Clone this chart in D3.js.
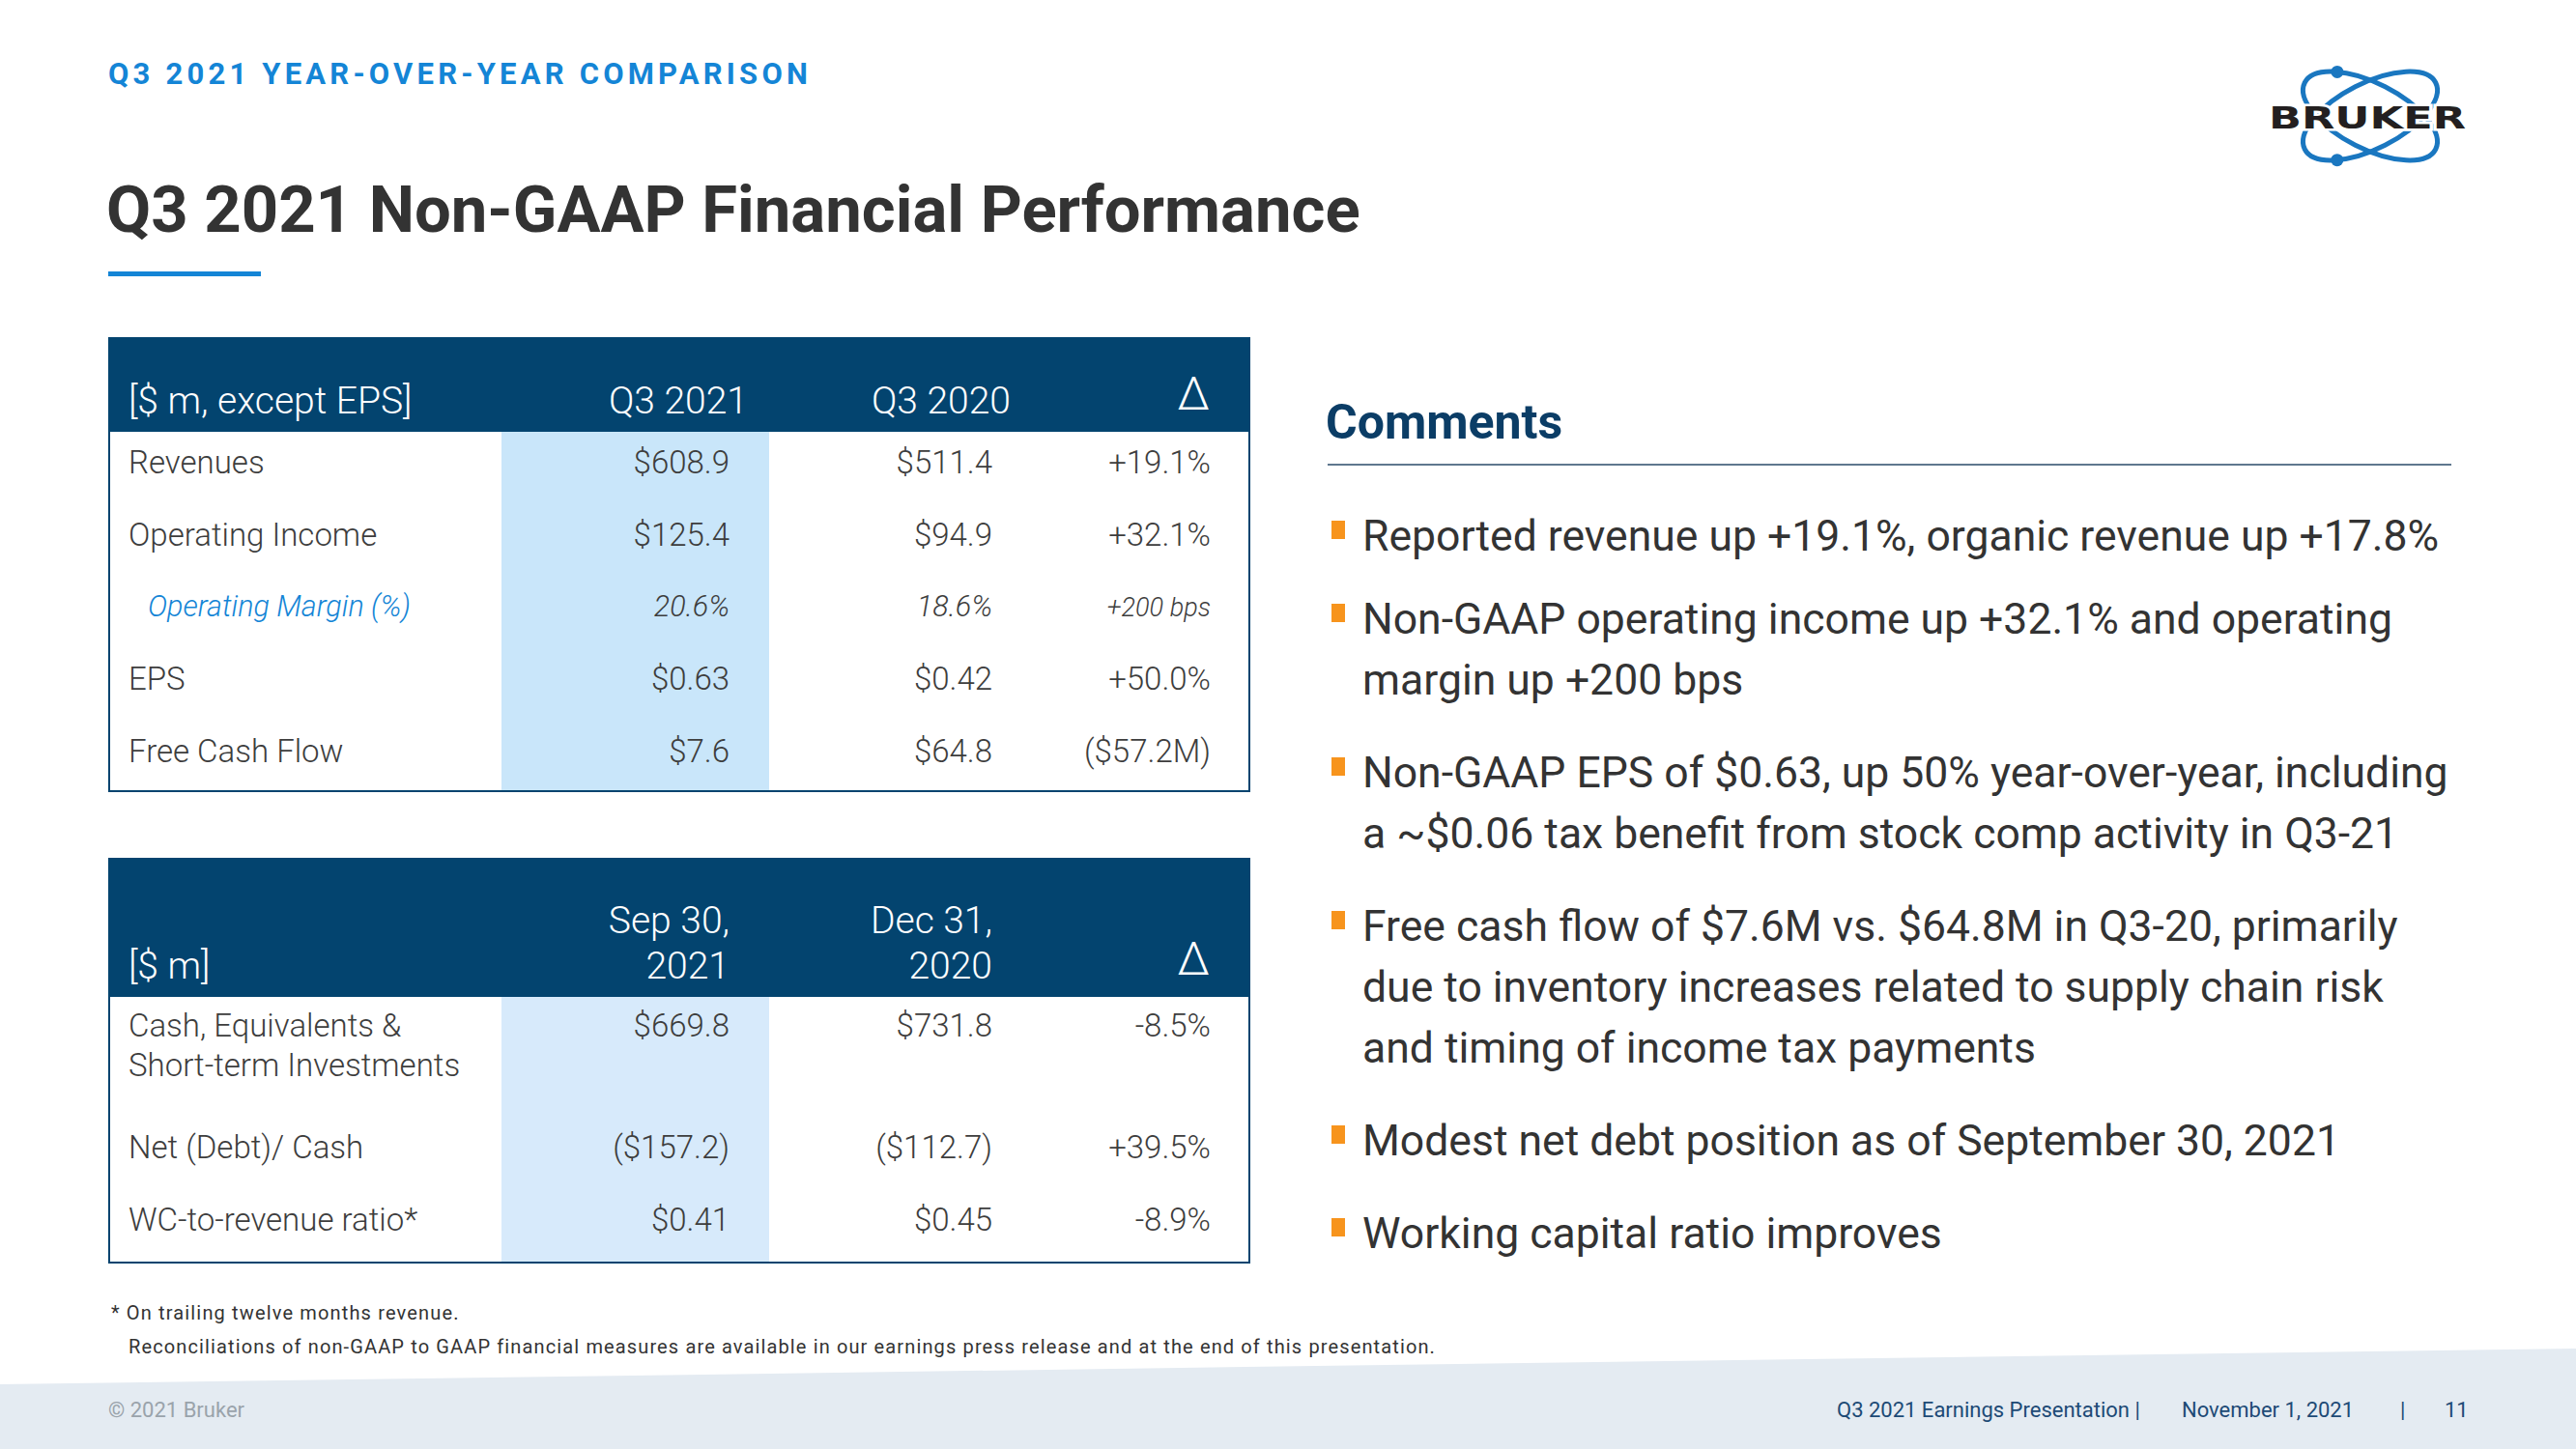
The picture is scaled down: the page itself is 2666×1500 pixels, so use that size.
<!DOCTYPE html>
<html><head><meta charset="utf-8">
<script src="https://cdn.jsdelivr.net/npm/d3@7"></script>
<style>html,body{margin:0;padding:0;background:#fff;overflow:hidden}</style>
</head><body>
<svg id="c" width="2666" height="1500"></svg>
<script>
// ---------------- DATA ----------------
const kicker = "Q3 2021 YEAR-OVER-YEAR COMPARISON";
const title = "Q3 2021 Non-GAAP Financial Performance";

const perfHeader = ["[$ m, except EPS]", "Q3 2021", "Q3 2020", "\u0394"];
const perfMetrics = ["Revenues", "Operating Income", "Operating Margin (%)", "EPS", "Free Cash Flow"];
const perfQ32021 = ["$608.9", "$125.4", "20.6%", "$0.63", "$7.6"];
const perfQ32020 = ["$511.4", "$94.9", "18.6%", "$0.42", "$64.8"];
const perfDelta = ["+19.1%", "+32.1%", "+200 bps", "+50.0%", "($57.2M)"];
const perfSubRows = ["Operating Margin (%)"];

const balHeader = [["[$ m]"], ["Sep 30,", "2021"], ["Dec 31,", "2020"], ["\u0394"]];
const balMetrics = [["Cash, Equivalents &", "Short-term Investments"], ["Net (Debt)/ Cash"], ["WC-to-revenue ratio*"]];
const balSep2021 = ["$669.8", "($157.2)", "$0.41"];
const balDec2020 = ["$731.8", "($112.7)", "$0.45"];
const balDelta = ["-8.5%", "+39.5%", "-8.9%"];

const commentsTitle = "Comments";
const comments = [
  ["Reported revenue up +19.1%, organic revenue up +17.8%"],
  ["Non-GAAP operating income up +32.1% and operating", "margin up +200 bps"],
  ["Non-GAAP EPS of $0.63, up 50% year-over-year, including", "a ~$0.06 tax benefit from stock comp activity in Q3-21"],
  ["Free cash flow of $7.6M vs. $64.8M in Q3-20, primarily", "due to inventory increases related to supply chain risk", "and timing of income tax payments"],
  ["Modest net debt position as of September 30, 2021"],
  ["Working capital ratio improves"]
];
const footnotes = ["* On trailing twelve months revenue.",
  "Reconciliations of non-GAAP to GAAP financial measures are available in our earnings press release and at the end of this presentation."];
const footerLeft = "\u00A9 2021 Bruker";
const footerRight = ["Q3 2021 Earnings Presentation |", "November 1, 2021", "|", "11"];

// ---------------- STYLE ----------------
const NAVY = "#03446f", BLUE = "#1485d6", TXT = "#3d3d3d", ORANGE = "#f7941d";
const FONT = "Roboto, 'Noto Sans', sans-serif";

const svg = d3.select("#c");
svg.append("rect").attr("width", 2666).attr("height", 1500).attr("fill", "#fff");

// footer band
svg.append("path").attr("d", "M0,1433 L2666,1396 L2666,1500 L0,1500 Z").attr("fill", "#e4ebf2");

// kicker + title
svg.append("text").attr("x", 112).attr("y", 87).text(kicker)
  .attr("font-family", FONT).attr("font-weight", 700).attr("font-size", 31)
  .attr("letter-spacing", 4.2).attr("fill", BLUE);
svg.append("text").attr("x", 110).attr("y", 240).text(title)
  .attr("font-family", FONT).attr("font-weight", 700).attr("font-size", 67).attr("fill", "#333");
svg.append("rect").attr("x", 112).attr("y", 281).attr("width", 158).attr("height", 5).attr("fill", BLUE);

// logo
const LA = 76, LB = 34, LT = 27;
const logo = svg.append("g").attr("transform", "translate(2453,120)");
[LT, -LT].forEach(a => {
  logo.append("ellipse").attr("rx", LA).attr("ry", LB).attr("transform", `rotate(${a})`)
    .attr("fill", "none").attr("stroke", "#1a77c0").attr("stroke-width", 5);
});
function onEllipse(rot, tx, ty) {
  const r = rot * Math.PI / 180; let best = null, bd = 1e9;
  for (let t = 0; t < Math.PI * 2; t += 0.005) {
    const x = LA * Math.cos(t) * Math.cos(r) - LB * Math.sin(t) * Math.sin(r);
    const y = LA * Math.cos(t) * Math.sin(r) + LB * Math.sin(t) * Math.cos(r);
    const d = (x - tx) ** 2 + (y - ty) ** 2; if (d < bd) { bd = d; best = [x, y]; }
  }
  return best;
}
[[LT, -34, -48], [-LT, -34, 48]].forEach(([r, tx, ty]) => {
  const p = onEllipse(r, tx, ty);
  logo.append("circle").attr("cx", p[0]).attr("cy", p[1]).attr("r", 6.5).attr("fill", "#1a77c0");
});
logo.append("text").attr("x", -105).attr("y", 13).text("BRUKER")
  .attr("font-family", "'DejaVu Sans', sans-serif").attr("font-weight", 700).attr("font-size", 31.5)
  .attr("textLength", 204).attr("lengthAdjust", "spacingAndGlyphs")
  .attr("fill", "#231f20").attr("stroke", "#fff").attr("stroke-width", 5).attr("paint-order", "stroke");

// ---------------- TABLES ----------------
const colKeys = ["label", "cur", "prev", "delta"];
const colX = d3.scaleOrdinal().domain(colKeys).range([133, 755, 1027, 1253]);
const tableX = d3.scaleLinear().domain([0, 1]).range([112, 1294]);
const hlX = d3.scaleOrdinal().domain(["start", "end"]).range([519, 796]);

function frame(g, top, headBottom, bottom) {
  g.append("rect").attr("x", tableX(0)).attr("y", top).attr("width", tableX(1) - tableX(0))
    .attr("height", headBottom - top).attr("fill", NAVY);
  g.append("path").attr("d", `M${tableX(0) + 1},${headBottom} V${bottom - 1} H${tableX(1) - 1} V${headBottom}`)
    .attr("fill", "none").attr("stroke", NAVY).attr("stroke-width", 2);
}
function headText(g, txt, i, y) {
  const isDelta = i === 3;
  g.append("text")
    .attr("x", colX(colKeys[i]) + (isDelta ? -1 : 0))
    .attr("y", isDelta ? y - 4 : y)
    .attr("text-anchor", i === 0 ? "start" : "end")
    .attr("font-family", FONT).attr("font-weight", 300).attr("font-size", isDelta ? 48 : 39).attr("fill", "#fff")
    .text(txt);
}

// table 1
const t1 = svg.append("g");
const t1Top = 349, t1Head = 447, t1Bot = 820;
const y1 = d3.scaleBand().domain(perfMetrics).range([t1Head, t1Bot]);
t1.append("rect").attr("x", hlX("start")).attr("y", t1Head).attr("width", hlX("end") - hlX("start"))
  .attr("height", t1Bot - t1Head).attr("fill", "#c9e6fa");
frame(t1, t1Top, t1Head, t1Bot);
perfHeader.forEach((h, i) => {
  const g = t1.append("g").attr("transform", `translate(${i === 1 || i === 2 ? 19 : 0},0)`);
  headText(g, h, i, 428);
});
const perfRows = perfMetrics.map((m, i) => ({m, cells: [m, perfQ32021[i], perfQ32020[i], perfDelta[i]], sub: perfSubRows.includes(m)}));
perfRows.forEach(r => {
  const yb = y1(r.m) + y1.bandwidth() * 0.58 + (r.sub ? -1 : 0);
  r.cells.forEach((c, i) => {
    t1.append("text")
      .attr("x", colX(colKeys[i]) + (i === 0 && r.sub ? 20 : 0))
      .attr("y", yb)
      .attr("text-anchor", i === 0 ? "start" : "end")
      .attr("font-family", FONT).attr("font-weight", 300)
      .attr("font-style", r.sub ? "italic" : "normal")
      .attr("font-size", r.sub ? (i === 3 ? 27 : 30.5) : 33)
      .attr("fill", r.sub && i === 0 ? BLUE : TXT)
      .text(c);
  });
});

// table 2
const t2 = svg.append("g");
const t2Top = 888, t2Head = 1032, t2Bot = 1308;
t2.append("rect").attr("x", hlX("start")).attr("y", t2Head).attr("width", hlX("end") - hlX("start"))
  .attr("height", t2Bot - t2Head).attr("fill", "#d7eafb");
frame(t2, t2Top, t2Head, t2Bot);
balHeader.forEach((lines, i) => {
  lines.forEach((l, j) => headText(t2, l, i, 1013 - (lines.length - 1 - j) * 47));
});
const units = balMetrics.map(l => 1 + (l.length - 1) * 0.68);
const cum = [0]; units.forEach(u => cum.push(cum[cum.length - 1] + u));
const y2 = d3.scaleLinear().domain([0, cum[cum.length - 1]]).range([t2Head, t2Bot]);
balMetrics.forEach((lines, i) => {
  const yb = y2(cum[i]) + 41;
  lines.forEach((l, j) => {
    t2.append("text").attr("x", colX("label")).attr("y", yb + j * 41)
      .attr("font-family", FONT).attr("font-weight", 300).attr("font-size", 33).attr("fill", TXT).text(l);
  });
  [balSep2021[i], balDec2020[i], balDelta[i]].forEach((v, k) => {
    t2.append("text").attr("x", colX(colKeys[k + 1])).attr("y", yb).attr("text-anchor", "end")
      .attr("font-family", FONT).attr("font-weight", 300).attr("font-size", 33).attr("fill", TXT).text(v);
  });
});

// ---------------- COMMENTS ----------------
svg.append("text").attr("x", 1372).attr("y", 454).text(commentsTitle)
  .attr("font-family", FONT).attr("font-weight", 700).attr("font-size", 50).attr("fill", "#0b3d66");
svg.append("line").attr("x1", 1374).attr("x2", 2537).attr("y1", 481).attr("y2", 481)
  .attr("stroke", "#2a4a68").attr("stroke-width", 1.5);

const LH = 63;
const gaps = comments.map((c, i) => i === 0 ? 0 : (i === 1 ? 23 : 33));
let yc = 570;
comments.forEach((lines, i) => {
  yc += gaps[i];
  svg.append("rect").attr("x", 1378).attr("y", yc - 31).attr("width", 14).attr("height", 19).attr("fill", ORANGE);
  lines.forEach((l, j) => {
    svg.append("text").attr("x", 1410).attr("y", yc + j * LH).text(l)
      .attr("font-family", FONT).attr("font-weight", 400).attr("font-size", 44.5).attr("fill", "#333");
  });
  yc += lines.length * LH;
});

// ---------------- FOOTNOTES / FOOTER ----------------
svg.append("text").attr("x", 115).attr("y", 1366).text(footnotes[0])
  .attr("font-family", FONT).attr("font-size", 20).attr("letter-spacing", 1.15).attr("fill", "#333");
svg.append("text").attr("x", 133).attr("y", 1401).text(footnotes[1])
  .attr("font-family", FONT).attr("font-size", 20).attr("letter-spacing", 1.13).attr("fill", "#333");

svg.append("text").attr("x", 112).attr("y", 1467).text(footerLeft)
  .attr("font-family", FONT).attr("font-size", 22).attr("fill", "#9aa3ab");
const frX = d3.scaleOrdinal().domain(footerRight).range([1901, 2258, 2484, 2530]);
footerRight.forEach(t => {
  svg.append("text").attr("x", frX(t)).attr("y", 1467).text(t)
    .attr("font-family", FONT).attr("font-size", 22).attr("fill", "#1d4a76");
});
</script>
</body></html>
